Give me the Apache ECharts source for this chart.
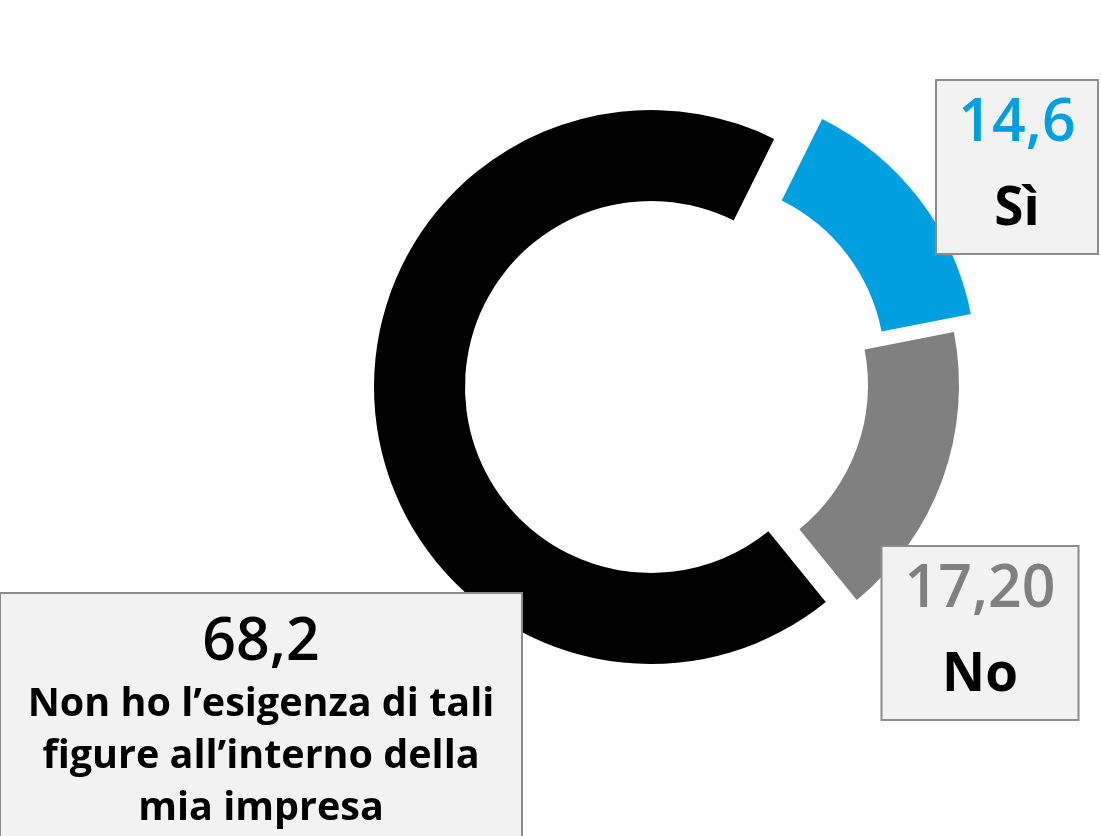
<!DOCTYPE html>
<html>
<head>
<meta charset="utf-8">
<script src="https://cdn.jsdelivr.net/npm/echarts@6/dist/echarts.min.js"></script>
<style>
html,body{margin:0;padding:0;background:#ffffff;}
#chart{width:1102px;height:836px;}
</style>
</head>
<body>
<div id="chart"></div>
<script>
// ---- data ----
const categories = ['Sì', 'No', 'Non ho l’esigenza di tali figure all’interno della mia impresa'];
const values = [14.6, 17.2, 68.2];
const valueLabels = ['14,6', '17,20', '68,2'];
const nameLabels = ['Sì', 'No', 'Non ho l’esigenza di tali\nfigure all’interno della\nmia impresa'];
const sliceColors = ['#009fdf', '#808080', '#000000'];
const valueColors = ['#009fdf', '#808080', '#000000'];

// ---- layout (exploded slices: each slice drawn by its own pie series) ----
const sliceCenters = [[699, 367], [682, 385], [651, 387]];
const boxes = [
  {x: 1017, y: 81, width: 160, pad: [1, 0, 1, 0], vSize: 59, vLH: 85, nSize: 53, nLH: 85},
  {x: 980, y: 547, width: 195, pad: [1, 0, 1, 0], vSize: 59, vLH: 85, nSize: 53, nLH: 85},
  {x: 261, y: 594, width: 520, pad: [14, 0, 12, 0], vSize: 59, vLH: 71, nSize: 39.5, nLH: 52}
];
const FONT = '"Open Sans", Lato, "Noto Sans", sans-serif';

const chart = echarts.init(document.getElementById('chart'), null, {renderer: 'canvas'});

const series = categories.map(function (cat, i) {
  const b = boxes[i];
  return {
    type: 'pie',
    center: sliceCenters[i],
    radius: [186, 277],
    startAngle: 63.6,
    clockwise: true,
    avoidLabelOverlap: false,
    silent: true,
    emphasis: {disabled: true},
    labelLine: {show: false},
    label: {
      show: true,
      position: 'inside',
      formatter: function (p) {
        return '{v|' + valueLabels[p.dataIndex] + '}\n{n|' + nameLabels[p.dataIndex] + '}';
      },
      backgroundColor: '#f2f2f2',
      borderColor: '#8c8c8c',
      borderWidth: 2,
      padding: b.pad,
      width: b.width,
      align: 'center',
      rich: {
        v: {fontFamily: FONT, fontSize: b.vSize, fontWeight: 600, color: valueColors[i], lineHeight: b.vLH, align: 'center'},
        n: {fontFamily: FONT, fontSize: b.nSize, fontWeight: 'bold', color: '#000000', lineHeight: b.nLH, align: 'center'}
      }
    },
    labelLayout: function () {
      return {x: b.x, y: b.y, align: 'center', verticalAlign: 'top'};
    },
    itemStyle: {borderWidth: 0},
    data: values.map(function (v, j) {
      return {
        name: categories[j],
        value: v,
        itemStyle: {color: j === i ? sliceColors[j] : 'rgba(0,0,0,0)', borderWidth: 0},
        label: {show: j === i}
      };
    })
  };
});

chart.setOption({
  animation: false,
  backgroundColor: '#ffffff',
  tooltip: {show: false},
  legend: {show: false},
  series: series
});
</script>
</body>
</html>
